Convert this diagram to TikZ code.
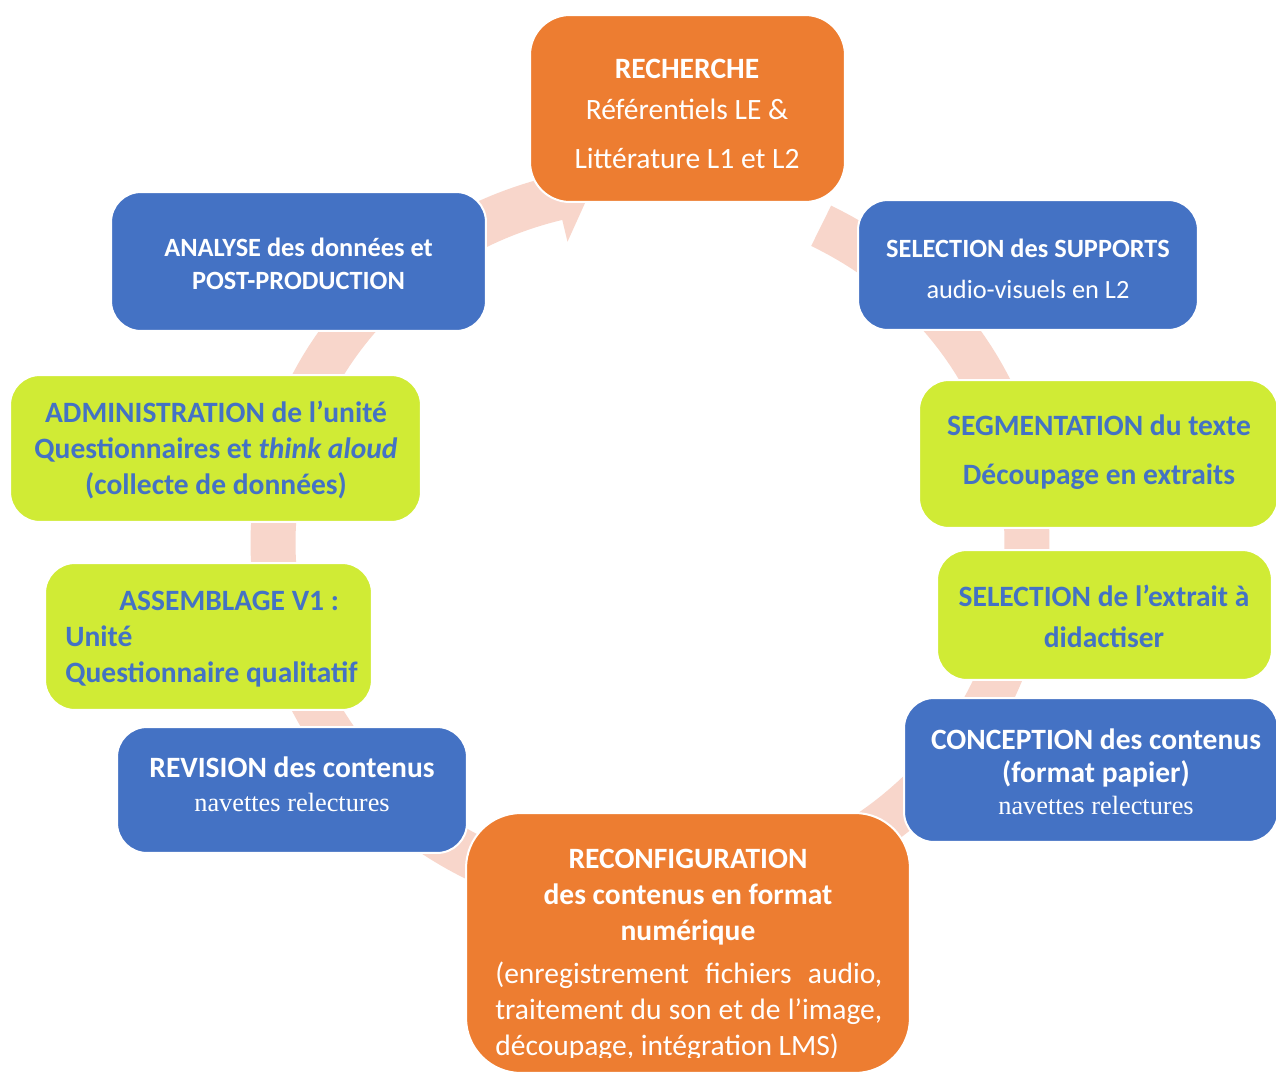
\documentclass[tikz,border=0pt]{standalone}
\usepackage{fontspec}
\setmainfont{Carlito}
\newfontfamily\seriff{Liberation Serif}
\definecolor{cOrange}{HTML}{ED7D31}
\definecolor{cBlue}{HTML}{4472C4}
\definecolor{cLime}{HTML}{D0EB35}
\definecolor{cPink}{HTML}{F8D6CB}
\definecolor{cText}{HTML}{4472C4}
\begin{document}
\begin{tikzpicture}[x=0.02cm,y=-0.02cm,
  stage/.style={rectangle, draw=white, line width=0.04cm, inner sep=0, rounded corners=0.6cm},
  ln/.style={inner sep=0, anchor=mid, yshift=-0.08cm, font=\fontsize{16.8pt}{20pt}\selectfont},
  bl/.style={inner sep=0, anchor=mid, yshift=-0.08cm, font=\fontsize{16.8pt}{20pt}\selectfont\bfseries},
  lns/.style={inner sep=0, anchor=mid, yshift=-0.1cm, font=\fontsize{15pt}{18pt}\selectfont},
  bls/.style={inner sep=0, anchor=mid, yshift=-0.1cm, font=\fontsize{15pt}{18pt}\selectfont\bfseries},
  sl/.style={inner sep=0, anchor=mid, yshift=-0.1cm, font=\fontsize{15pt}{18pt}\seriff},
  wt/.style={text=white},
  bt/.style={text=cText},
  ring/.style={draw=cPink, line width=0.9cm},
]
\useasboundingbox (0,0) rectangle (1276,1075);
\clip (0,0) rectangle (1276,1075);
\fill[white] (0,0) rectangle (1276,1075);

% circular arrow behind the stages
\draw[ring] plot[domain=63:-256, samples=200, smooth] ({650+377*cos(\x)},{543-356*sin(\x)});
\fill[cPink] (546.5,154.3) -- (591,189.8) -- (567.5,241.7) -- cycle;

% stages
\node[stage, fill=cOrange, rounded corners=0.8cm, minimum width=6.3cm, minimum height=3.74cm] (recherche) at (687.5,108.5) {};
\node[stage, fill=cBlue, minimum width=6.8cm, minimum height=2.6cm] (supports) at (1028,265) {};
\node[stage, fill=cLime, minimum width=7.18cm, minimum height=2.96cm] (segment) at (1098.5,454) {};
\node[stage, fill=cLime, minimum width=6.7cm, minimum height=2.6cm] (extrait) at (1104.5,615) {};
\node[stage, fill=cBlue, minimum width=7.48cm, minimum height=2.88cm] (conception) at (1091,770) {};
\node[stage, fill=cOrange, rounded corners=1.1cm, minimum width=8.88cm, minimum height=5.2cm] (reconfig) at (688,943) {};
\node[stage, fill=cBlue, minimum width=7.0cm, minimum height=2.52cm] (revision) at (292,790) {};
\node[stage, fill=cLime, minimum width=6.54cm, minimum height=2.94cm] (assemblage) at (208.5,636.5) {};
\node[stage, fill=cLime, minimum width=8.22cm, minimum height=2.94cm] (admin) at (215.5,448.5) {};
\node[stage, fill=cBlue, minimum width=7.5cm, minimum height=2.78cm] (analyse) at (298.5,261.5) {};

% texts
\node[bl, wt] (r1) at (687,70) {RECHERCHE};
\node[ln, wt] (r2) at (687,111) {Référentiels LE \&};
\node[ln, wt] (r3) at (687,160) {Littérature L1 et L2};

\node[bls, wt] (s1) at (1028,248) {SELECTION des SUPPORTS};
\node[lns, wt] (s2) at (1028,289) {audio-visuels en L2};

\node[bl, bt] (g1) at (1099,427) {SEGMENTATION du texte};
\node[bl, bt] (g2) at (1099,476) {Découpage en extraits};

\node[bl, bt] (e1) at (1104,598) {SELECTION de l’extrait à};
\node[bl, bt] (e2) at (1104,639) {didactiser};

\node[bl, wt] (c1) at (1096,741) {CONCEPTION des contenus};
\node[bl, wt] (c2) at (1096,774) {(format papier)};
\node[sl, wt] (c3) at (1096,805) {navettes relectures};

\node[bl, wt] (f1) at (688,860) {RECONFIGURATION};
\node[bl, wt] (f2) at (688,896) {des contenus en format};
\node[bl, wt] (f3) at (688,932) {numérique};
\node[ln, wt, anchor=mid west] (f4) at (495,975) {\makebox[7.74cm][s]{(enregistrement fichiers audio,}};
\node[ln, wt, anchor=mid west] (f5) at (495,1011) {\makebox[7.74cm][s]{traitement du son et de l’image,}};
\begin{scope}
\clip (400,800) rectangle (950,1057);
\node[ln, wt, anchor=mid west] (f6) at (495,1047) {découpage, intégration LMS)};
\end{scope}

\node[bl, wt] (v1) at (292,769) {REVISION des contenus};
\node[sl, wt] (v2) at (292,802) {navettes relectures};

\node[bl, bt, anchor=mid west] (a1) at (119,602) {ASSEMBLAGE V1 :};
\node[bl, bt, anchor=mid west] (a2) at (65,638) {Unité};
\node[bl, bt, anchor=mid west] (a3) at (65,674) {Questionnaire qualitatif};

\node[bl, bt] (d1) at (216,414) {ADMINISTRATION de l’unité};
\node[bl, bt] (d2) at (216,450) {Questionnaires et \textit{think aloud}};
\node[bl, bt] (d3) at (216,486) {(collecte de données)};

\node[bls, wt] (n1) at (298.5,247) {ANALYSE des données et};
\node[bls, wt] (n2) at (298.5,280) {POST-PRODUCTION};
\end{tikzpicture}
\end{document}
